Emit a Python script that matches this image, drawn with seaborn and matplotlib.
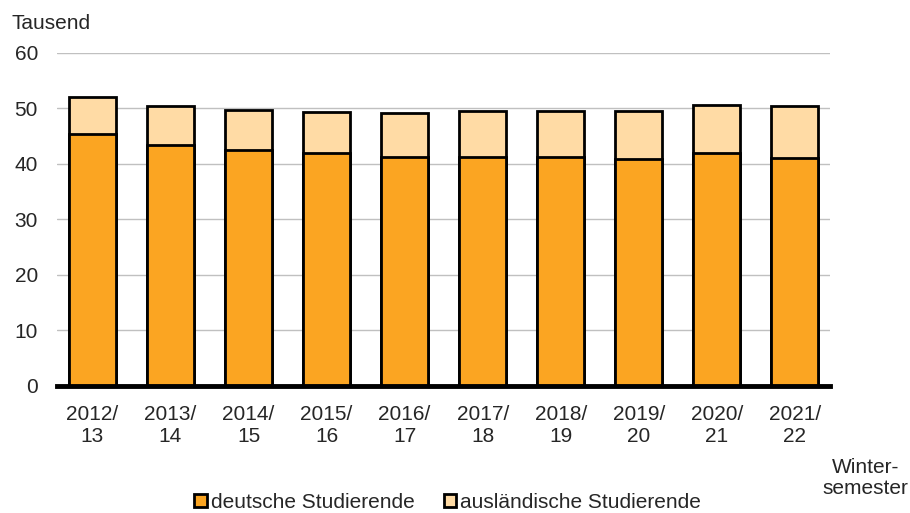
import numpy as np
import pandas as pd
import matplotlib
matplotlib.use("Agg")
import matplotlib.pyplot as plt
from matplotlib.patches import Patch
import seaborn as sns

semester = ["2012/\n13", "2013/\n14", "2014/\n15", "2015/\n16", "2016/\n17",
            "2017/\n18", "2018/\n19", "2019/\n20", "2020/\n21", "2021/\n22"]
deutsche = [45.4, 43.4, 42.5, 41.9, 41.3, 41.3, 41.2, 40.9, 41.9, 41.1]
auslaendische = [6.7, 7.0, 7.25, 7.5, 7.9, 8.2, 8.4, 8.7, 8.75, 9.4]

col_de = "#FBA522"
col_aus = "#FFDBA5"

df = pd.DataFrame({"semester": semester, "deutsche": deutsche,
                   "aus": auslaendische})
df["gesamt"] = df["deutsche"] + df["aus"]

sns.set_style("white")
plt.rcParams["font.family"] = ["Liberation Sans", "DejaVu Sans"]
plt.rcParams["font.size"] = 15

fig = plt.figure(figsize=(9.1, 5.13), dpi=100)
ax = fig.add_axes([0.063, 0.248, 0.849, 0.649])

# gesamt hinten, deutsche davor -> gestapelte Optik
sns.barplot(data=df, x="semester", y="gesamt", color=col_aus, saturation=1,
            width=0.6, edgecolor="black", linewidth=2, ax=ax, zorder=3)
sns.barplot(data=df, x="semester", y="deutsche", color=col_de, saturation=1,
            width=0.6, edgecolor="black", linewidth=2, ax=ax, zorder=3)

ax.set_ylim(0, 60)
ax.set_yticks(range(0, 61, 10))
ax.set_xlim(-0.45, 9.45)
ax.yaxis.grid(True, color="#c0c0c0", linewidth=1)
ax.set_axisbelow(True)
for s in ["top", "right", "left"]:
    ax.spines[s].set_visible(False)
ax.spines["bottom"].set_linewidth(3.5)
ax.spines["bottom"].set_color("black")
ax.spines["bottom"].set_zorder(5)
ax.tick_params(axis="x", length=0, labelsize=15, pad=14)
ax.tick_params(axis="y", length=0, labelsize=15, pad=14)
ax.set_xlabel("")
ax.set_ylabel("")

fig.text(0.013, 0.955, "Tausend", fontsize=15, ha="left", va="center")
fig.text(0.951, 0.068, "Winter-\nsemester", fontsize=15, ha="center",
         va="center", linespacing=1.15)

handles = [Patch(facecolor=col_de, edgecolor="black", linewidth=2),
           Patch(facecolor=col_aus, edgecolor="black", linewidth=2)]
fig.legend(handles, ["deutsche Studierende", "ausländische Studierende"],
           loc="center", bbox_to_anchor=(0.492, 0.021), ncol=2, frameon=False,
           fontsize=15, handlelength=0.6, handleheight=0.6, handletextpad=0.2,
           columnspacing=1.4, borderpad=0)

fig.savefig("out.png", dpi=100)
